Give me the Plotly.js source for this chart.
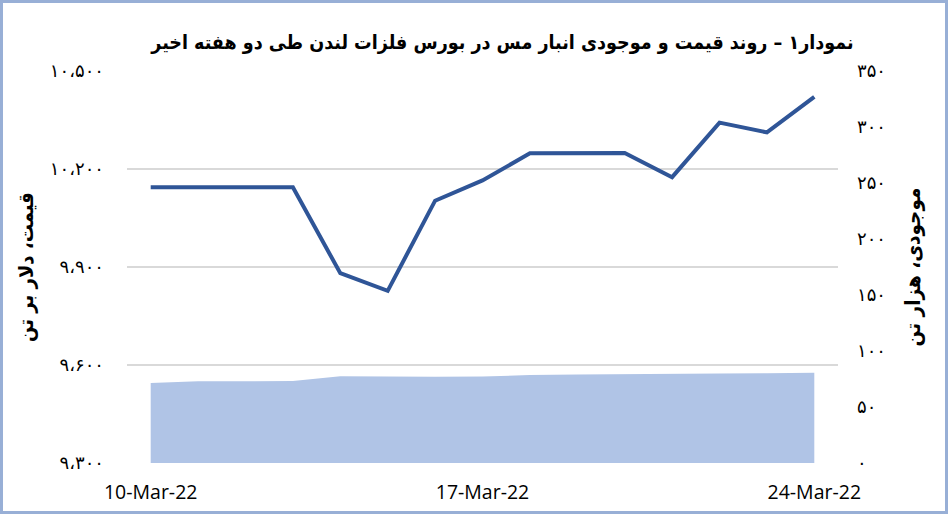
<!DOCTYPE html>
<html>
<head>
<meta charset="utf-8">
<script src="https://cdn.plot.ly/plotly-3.0.1.min.js"></script>
<style>
  html, body { margin: 0; padding: 0; background: #ffffff; }
  #wrap { position: relative; width: 948px; height: 514px; }
  #chart { position: absolute; left: 0; top: 0; width: 948px; height: 514px; }
  #frame { position: absolute; left: 0; top: 0; width: 948px; height: 514px; box-sizing: border-box; border: 3px solid #98afd6; pointer-events: none; }
</style>
</head>
<body>
<div id="wrap"><div id="chart"></div><div id="frame"></div></div>
<script>
// Dates (daily, 10–24 March 2022)
const dates = ['2022-03-10','2022-03-11','2022-03-12','2022-03-13','2022-03-14','2022-03-15','2022-03-16',
               '2022-03-17','2022-03-18','2022-03-19','2022-03-20','2022-03-21','2022-03-22','2022-03-23','2022-03-24'];
// Copper price, USD per tonne (left axis)
const price = [10144, 10144, 10144, 10144, 9881, 9827, 10103, 10165, 10248, 10248, 10249, 10175, 10342, 10312, 10421];
// Warehouse stocks, thousand tonnes (right axis)
const stocks = [71.4, 72.9, 73.0, 73.2, 77.5, 77.0, 77.0, 77.2, 78.6, 79.0, 79.5, 79.5, 80.0, 80.2, 80.6];

// Tick labels
const xTickVals = ['2022-03-10', '2022-03-17', '2022-03-24'];
const priceTickVals = [9300, 9600, 9900, 10200, 10500];
const priceTickText = ['۹،۳۰۰', '۹،۶۰۰', '۹،۹۰۰', '۱۰،۲۰۰', '۱۰،۵۰۰'];
const stockTickVals = [0, 50, 100, 150, 200, 250, 300, 350];
const stockTickText = ['۰', '۵۰', '۱۰۰', '۱۵۰', '۲۰۰', '۲۵۰', '۳۰۰', '۳۵۰'];

// Texts
const chartTitle = 'نمودار۱ – روند قیمت و موجودی انبار مس در بورس فلزات لندن طی دو هفته اخیر';
const priceTitle = 'قیمت، دلار بر تن';
const stockTitle = 'موجودی، هزار تن';

const faFont = 'DejaVu Sans Condensed, DejaVu Sans, sans-serif';
const faTickFont = 'DejaVu Sans, sans-serif';

const traces = [
  {
    x: dates, y: stocks, yaxis: 'y2', type: 'scatter', mode: 'lines',
    fill: 'tozeroy', fillcolor: '#b0c4e6', line: { width: 0, color: '#b0c4e6' },
    hoverinfo: 'x+y', showlegend: false
  },
  {
    x: dates, y: price, yaxis: 'y', type: 'scatter', mode: 'lines',
    line: { color: '#2f5597', width: 4 },
    showlegend: false
  }
];

const layout = {
  width: 948, height: 514,
  paper_bgcolor: '#ffffff', plot_bgcolor: '#ffffff',
  margin: { l: 127, r: 110, t: 71, b: 51 },
  showlegend: false,
  title: {
    text: chartTitle,
    font: { family: faFont, size: 19.5, color: '#000000', weight: 'bold' },
    x: 0.53, xref: 'container', xanchor: 'center',
    y: 1 - 42 / 514, yref: 'container', yanchor: 'middle'
  },
  xaxis: {
    type: 'date',
    range: ['2022-03-09 12:00', '2022-03-24 12:00'],
    tickvals: xTickVals,
    tickformat: '%-d-%b-%y',
    ticks: '', showgrid: false, zeroline: false, showline: false,
    ticklabelstandoff: 15,
    tickfont: { family: 'Open Sans, Liberation Sans, sans-serif', size: 19.5, color: '#000000' }
  },
  yaxis: {
    range: [9300, 10500],
    tickvals: priceTickVals, ticktext: priceTickText,
    showgrid: true, gridcolor: '#d9d9d9', gridwidth: 1.5,
    zeroline: false, showline: false, ticks: '',
    ticklabelstandoff: 22,
    tickfont: { family: faTickFont, size: 18, color: '#000000' },
    title: { text: priceTitle, standoff: 10, font: { family: faFont, size: 20, color: '#000000', weight: 'bold' } }
  },
  yaxis2: {
    overlaying: 'y', side: 'right',
    range: [0, 350],
    tickvals: stockTickVals, ticktext: stockTickText,
    showgrid: false, zeroline: false, showline: false, ticks: '',
    ticklabelstandoff: 18,
    tickfont: { family: faTickFont, size: 18, color: '#000000' },
    title: { text: stockTitle, standoff: 20, font: { family: faFont, size: 20.5, color: '#000000', weight: 'bold' } }
  }
};

Plotly.newPlot('chart', traces, layout, { displayModeBar: false, staticPlot: true });
</script>
</body>
</html>
